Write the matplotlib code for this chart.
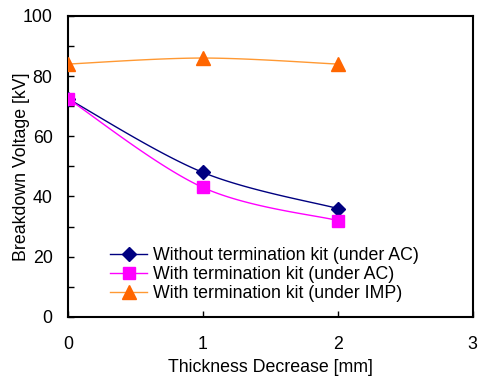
import numpy as np
import matplotlib
matplotlib.use("Agg")
from matplotlib import pyplot as plt

plt.rcParams['font.family'] = ['Liberation Sans', 'DejaVu Sans']

thickness = [0, 1, 2]
without_kit_ac = [72.5, 48, 36]
with_kit_ac = [72.5, 43, 32]
with_kit_imp = [84, 86, 84]
labels = ["Without termination kit (under AC)",
          "With termination kit (under AC)",
          "With termination kit (under IMP)"]


def smooth(x, y, n=40):
    # Catmull-Rom curve through the points, like Excel's smoothed line
    x = np.asarray(x, float)
    y = np.asarray(y, float)
    px = np.concatenate([[x[0]], x, [x[-1]]])
    py = np.concatenate([[y[0]], y, [y[-1]]])
    xs, ys = [], []
    t = np.linspace(0, 1, n)
    for i in range(1, len(px) - 2):
        p0, p1, p2, p3 = (np.array([px[j], py[j]]) for j in range(i - 1, i + 3))
        m1 = (p2 - p0) / 6.0
        m2 = (p3 - p1) / 6.0
        c1 = p1 + m1
        c2 = p2 - m2
        for tt in t:
            b = ((1 - tt) ** 3 * p1 + 3 * (1 - tt) ** 2 * tt * c1
                 + 3 * (1 - tt) * tt ** 2 * c2 + tt ** 3 * p2)
            xs.append(b[0])
            ys.append(b[1])
    return xs, ys


fig = plt.figure(figsize=(4.78, 3.79), dpi=100)
ax = fig.add_axes([0.142, 0.164, 0.847, 0.794])

series = [
    (without_kit_ac, "#000080", "#000080", "D", 7),
    (with_kit_ac, "#FF00FF", "#FF00FF", "s", 9),
    (with_kit_imp, "#FF9933", "#FF6600", "^", 9.5),
]
for (vals, lc, mc, mk, ms), lab in zip(series, labels):
    sx, sy = smooth(thickness, vals)
    ax.plot(sx, sy, color=lc, lw=1.0, zorder=2)
    ax.plot(thickness, vals, ls="none", marker=mk, ms=ms, color=mc, zorder=3)
    ax.plot([], [], color=lc, lw=1.0, marker=mk, ms=ms, mfc=mc, mec=mc, label=lab)

ax.set_xlim(0, 3)
ax.set_ylim(0, 100)
ax.set_xticks([0, 1, 2, 3])
ax.set_yticks([0, 20, 40, 60, 80, 100])
ax.set_yticks([10, 30, 50, 70, 90], minor=True)
ax.tick_params(direction="in", length=4, width=1, labelsize=12.8)
ax.tick_params(axis="x", pad=14)
ax.tick_params(axis="y", pad=11)
ax.tick_params(which="minor", direction="in", length=4, width=1)
for s in ax.spines.values():
    s.set_linewidth(1.5)

ax.set_xlabel("Thickness Decrease [mm]", fontsize=12.8, labelpad=4)
ax.set_ylabel("Breakdown Voltage [kV]", fontsize=12.8, labelpad=-5)

ax.legend(loc="lower left", bbox_to_anchor=(0.104, 0.05), frameon=False,
          fontsize=12.8, handlelength=2.1, handletextpad=0.3,
          labelspacing=0.1, borderpad=0, borderaxespad=0)

fig.savefig("out.png", dpi=100)
